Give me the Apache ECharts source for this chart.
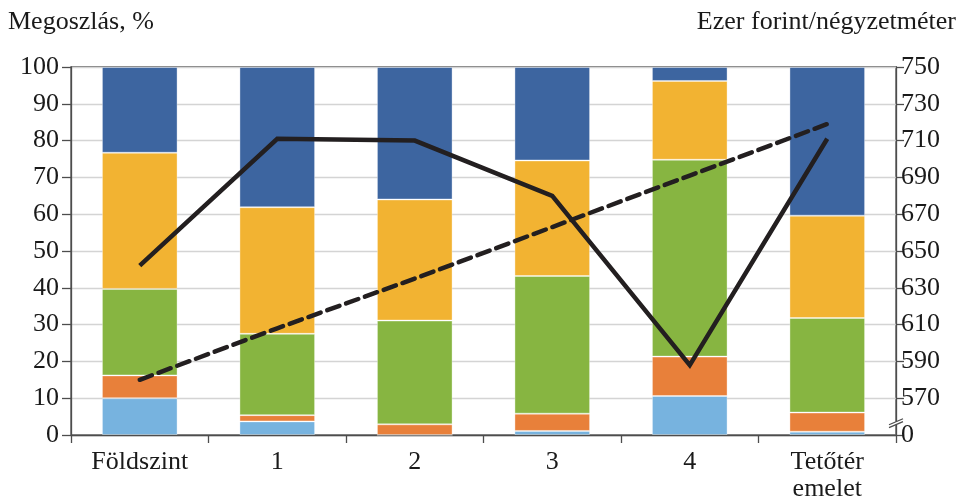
<!DOCTYPE html>
<html>
<head>
<meta charset="utf-8">
<script src="https://cdn.jsdelivr.net/npm/echarts@6/dist/echarts.min.js"></script>
<style>html,body{margin:0;padding:0;background:#fff}#c{width:962px;height:499px}</style>
</head>
<body>
<div id="c"></div>
<script>
const categories = ['Földszint', '1', '2', '3', '4', 'Tetőtér\nemelet'];
const lightBlue = [10.0, 3.7, 0.0, 1.1, 10.6, 0.9];
const orange    = [6.2, 1.7, 2.9, 4.7, 10.7, 5.2];
const green     = [23.5, 22.1, 28.2, 37.4, 53.5, 25.7];
const yellow    = [37.0, 34.4, 32.9, 31.4, 21.4, 27.8];
const darkBlue  = [23.3, 38.1, 36.0, 25.4, 3.8, 40.4];
const priceSolid  = [642, 711, 710, 680, 588, 711];
const priceDashed = [580, 608, 635, 663, 691, 719];
const rightBase = 550;
const rightTicks = [0, 570, 590, 610, 630, 650, 670, 690, 710, 730, 750];

const FONT = 'Liberation Serif';
const FS = 26;
const chart = echarts.init(document.getElementById('c'), null, {renderer: 'canvas'});

function barSeries(name, data, color) {
  return {
    name, type: 'bar', stack: 'share', data, barWidth: '55%', yAxisIndex: 0,
    itemStyle: {color, borderColor: 'rgba(255,255,255,0.35)', borderWidth: 1},
    emphasis: {disabled: true}, animation: false
  };
}

const option = {
  animation: false,
  textStyle: {fontFamily: FONT},
  grid: {left: 71, right: 66, top: 67, bottom: 64, show: true, borderColor: '#4d4d4d', borderWidth: 1.3,
         containLabel: false, outerBoundsMode: 'none'},
  xAxis: {
    type: 'category', data: categories,
    axisLine: {lineStyle: {color: '#4d4d4d', width: 1.3}},
    axisTick: {show: true, length: 8, inside: false, lineStyle: {color: '#4d4d4d', width: 1.3}},
    axisLabel: {color: '#1a1a1a', fontFamily: FONT, fontSize: FS, margin: 14, lineHeight: 27, interval: 0}
  },
  yAxis: [{
    type: 'value', min: 0, max: 100, interval: 10, position: 'left',
    axisLine: {show: true, lineStyle: {color: '#4d4d4d', width: 1.3}},
    axisTick: {show: true, length: 9, lineStyle: {color: '#4d4d4d', width: 1.3}},
    axisLabel: {color: '#1a1a1a', fontFamily: FONT, fontSize: FS, margin: 12},
    splitLine: {show: true, lineStyle: {color: '#d4d4d4', width: 1.3}}
  }, {
    type: 'value', min: 0, max: 200, interval: 20, position: 'right',
    axisLine: {show: true, lineStyle: {color: '#4d4d4d', width: 1.3}},
    axisTick: {show: true, length: 8, lineStyle: {color: '#4d4d4d', width: 1.3}},
    axisLabel: {color: '#1a1a1a', fontFamily: FONT, fontSize: FS, margin: 5,
      formatter: v => { const idx = Math.round(v / 20); return idx === 0 ? String(rightTicks[0]) : String(v + rightBase); }},
    splitLine: {show: false}
  }],
  series: [
    barSeries('lb', lightBlue, '#77b3df'),
    barSeries('or', orange, '#e8803a'),
    barSeries('gr', green, '#87b541'),
    barSeries('ye', yellow, '#f2b332'),
    barSeries('db', darkBlue, '#3d65a0'),
    {type: 'line', yAxisIndex: 1, data: priceSolid.map(v => v - rightBase), symbol: 'none',
     lineStyle: {color: '#231f20', width: 4.5, join: 'miter'}, z: 5},
    {type: 'line', yAxisIndex: 1, data: priceDashed.map(v => v - rightBase), symbol: 'none',
     lineStyle: {color: '#231f20', width: 4.5, type: [13, 7], cap: 'round'}, z: 5}
  ],
  graphic: [
    {type: 'text', left: 8, top: 9, style: {text: 'Megoszlás, %', fontFamily: FONT, fontSize: FS, fill: '#1a1a1a'}},
    {type: 'text', right: 6, top: 9, style: {text: 'Ezer forint/négyzetméter', fontFamily: FONT, fontSize: FS, fill: '#1a1a1a'}}
  ]
};
chart.setOption(option);

// axis break marker on the right axis between 0 and the first labelled value
const ax = chart.convertToPixel({xAxisIndex: 0}, 5) + 68.75;
const gy1 = chart.convertToPixel({yAxisIndex: 1}, 7.2);
const gy2 = chart.convertToPixel({yAxisIndex: 1}, 5.6);
chart.setOption({graphic: option.graphic.concat([
  {type: 'rect', shape: {x: ax - 3, y: gy1, width: 6, height: gy2 - gy1}, style: {fill: '#fff'}, z: 100},
  {type: 'line', shape: {x1: ax - 7, y1: gy1 + 3, x2: ax + 7, y2: gy1 - 3}, style: {stroke: '#4d4d4d', lineWidth: 1.3}, z: 101},
  {type: 'line', shape: {x1: ax - 7, y1: gy2 + 3, x2: ax + 7, y2: gy2 - 3}, style: {stroke: '#4d4d4d', lineWidth: 1.3}, z: 101}
])});
</script>
</body>
</html>
